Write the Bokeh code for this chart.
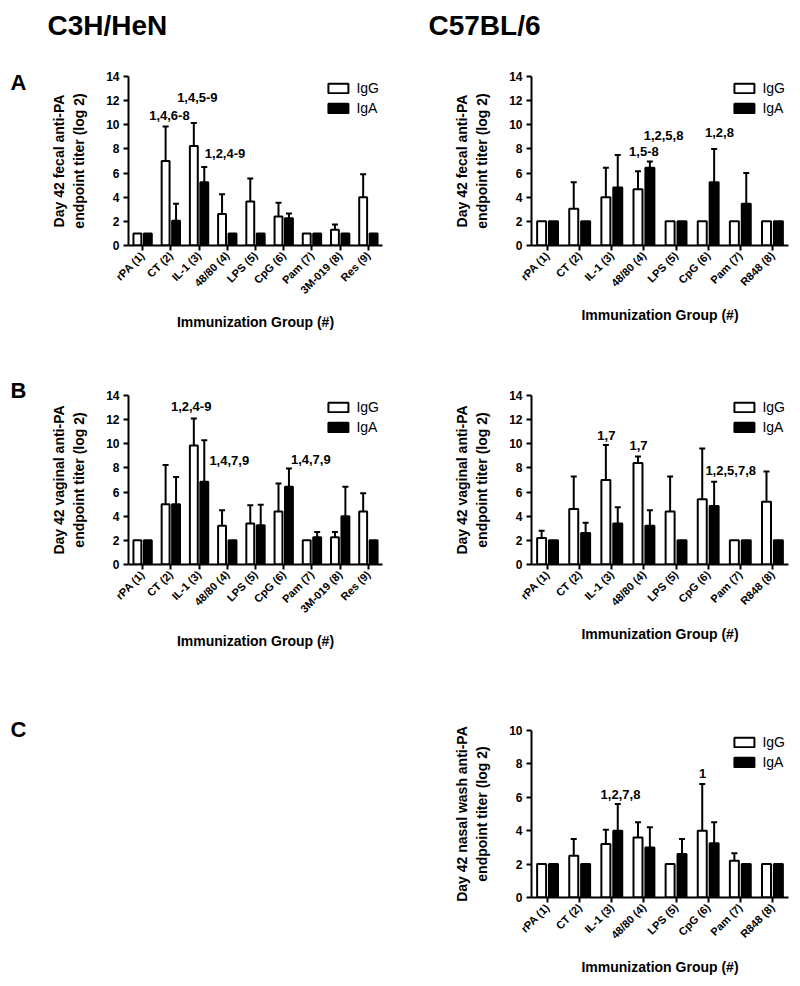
import math
from bokeh.plotting import figure
from bokeh.models import (FactorRange, ColumnDataSource, Whisker, TeeHead, Legend,
                          LegendItem, Label, Range1d, Spacer)
from bokeh.transform import dodge
from bokeh.layouts import column, row
from bokeh.core.properties import value
from bokeh.embed import file_html
from bokeh.resources import INLINE

FONT = "Liberation Sans"

# ---------------- data ----------------
cats_c3h = ["rPA (1)", "CT (2)", "IL-1 (3)", "48/80 (4)", "LPS (5)", "CpG (6)",
            "Pam (7)", "3M-019 (8)", "Res (9)"]
cats_c57 = ["rPA (1)", "CT (2)", "IL-1 (3)", "48/80 (4)", "LPS (5)", "CpG (6)",
            "Pam (7)", "R848 (8)"]

# A, C3H/HeN fecal
a1_igg = [1.0, 7.0, 8.25, 2.6, 3.65, 2.4, 1.0, 1.3, 4.0]
a1_igg_hi = [1.0, 9.85, 10.15, 4.25, 5.55, 3.55, 1.0, 1.75, 5.9]
a1_iga = [1.0, 2.05, 5.25, 1.0, 1.0, 2.25, 1.0, 1.0, 1.0]
a1_iga_hi = [1.0, 3.45, 6.5, 1.0, 1.0, 2.65, 1.0, 1.0, 1.0]

# A, C57BL/6 fecal
a2_igg = [2.0, 3.05, 4.0, 4.65, 2.0, 2.0, 2.0, 2.0]
a2_igg_hi = [2.0, 5.25, 6.45, 6.15, 2.0, 2.0, 2.0, 2.0]
a2_iga = [2.0, 2.0, 4.8, 6.45, 2.0, 5.25, 3.45, 2.0]
a2_iga_hi = [2.0, 2.0, 7.5, 6.95, 2.0, 8.0, 6.0, 2.0]

# B, C3H/HeN vaginal
b1_igg = [2.0, 5.0, 9.85, 3.2, 3.4, 4.4, 2.0, 2.25, 4.4]
b1_igg_hi = [2.0, 8.25, 12.1, 4.5, 4.9, 6.7, 2.0, 2.7, 5.9]
b1_iga = [2.0, 5.0, 6.85, 2.0, 3.25, 6.45, 2.25, 4.0, 2.0]
b1_iga_hi = [2.0, 7.25, 10.3, 2.0, 4.95, 7.95, 2.7, 6.45, 2.0]

# B, C57BL/6 vaginal
b2_igg = [2.2, 4.6, 7.0, 8.4, 4.4, 5.4, 2.0, 5.2]
b2_igg_hi = [2.8, 7.3, 9.9, 8.95, 7.3, 9.6, 2.0, 7.7]
b2_iga = [2.0, 2.6, 3.4, 3.2, 2.0, 4.85, 2.0, 2.0]
b2_iga_hi = [2.0, 3.45, 4.75, 4.5, 2.0, 6.85, 2.0, 2.0]

# C, C57BL/6 nasal wash
c2_igg = [2.0, 2.5, 3.2, 3.6, 2.0, 4.0, 2.2, 2.0]
c2_igg_hi = [2.0, 3.5, 4.05, 4.5, 2.0, 6.8, 2.65, 2.0]
c2_iga = [2.0, 2.0, 4.0, 3.0, 2.6, 3.25, 2.0, 2.0]
c2_iga_hi = [2.0, 2.0, 5.6, 4.2, 3.5, 4.5, 2.0, 2.0]

# significance annotations: category, level, text
a1_ann_cat = ["CT (2)", "IL-1 (3)", "IL-1 (3)"]
a1_ann_y = [10.8, 12.25, 7.6]
a1_ann_txt = ["1,4,6-8", "1,4,5-9", "1,2,4-9"]
a2_ann_cat = ["48/80 (4)", "48/80 (4)", "CpG (6)"]
a2_ann_y = [7.75, 9.1, 9.35]
a2_ann_txt = ["1,5-8", "1,2,5,8", "1,2,8"]
b1_ann_cat = ["IL-1 (3)", "IL-1 (3)", "CpG (6)"]
b1_ann_y = [13.05, 8.65, 8.7]
b1_ann_txt = ["1,2,4-9", "1,4,7,9", "1,4,7,9"]
b2_ann_cat = ["IL-1 (3)", "48/80 (4)", "CpG (6)"]
b2_ann_y = [10.65, 9.85, 7.75]
b2_ann_txt = ["1,7", "1,7", "1,2,5,7,8"]
c2_ann_cat = ["IL-1 (3)", "CpG (6)"]
c2_ann_y = [6.15, 7.4]
c2_ann_txt = ["1,2,7,8", "1"]

y_ticks_14 = [0, 2, 4, 6, 8, 10, 12, 14]
y_ticks_10 = [0, 2, 4, 6, 8, 10]
series_names = ["IgG", "IgA"]
strain_titles = ["C3H/HeN", "C57BL/6"]
panel_letters = ["A", "B", "C"]
x_title = "Immunization Group (#)"

# ---------------- styling / layout ----------------
OFF = 0.185
BAR_W = 0.28
HEADER_H = 48
LETTER_W = 38


def panel(cats, igg, igg_hi, iga, iga_hi, ann_cat, ann_y, ann_txt, ann_dx,
          ymax, yticks, ylab, height, btop, left_col):
    if left_col:
        w, bl, br = 362, 90, 18
    else:
        w, bl, br = 392, 131, 4
    fh = 169 if ymax == 14 else 170
    p = figure(x_range=FactorRange(*cats), y_range=Range1d(0, ymax),
               width=w, height=height, output_backend="svg",
               toolbar_location=None, min_border_left=bl, min_border_right=br,
               min_border_top=btop, min_border_bottom=height - btop - fh)
    p.outline_line_color = None
    p.xgrid.grid_line_color = None
    p.ygrid.grid_line_color = None
    p.background_fill_color = "white"
    p.border_fill_color = "white"

    src = ColumnDataSource(dict(cat=cats, igg=igg, iga=iga))
    r_g = p.vbar(x=dodge("cat", -OFF, range=p.x_range), top="igg", width=BAR_W,
                 source=src, fill_color="white", line_color="black", line_width=2)
    r_a = p.vbar(x=dodge("cat", OFF, range=p.x_range), top="iga", width=BAR_W,
                 source=src, fill_color="black", line_color="black", line_width=2)

    for vals, his, off in ((igg, igg_hi, -OFF), (iga, iga_hi, OFF)):
        keep = [i for i in range(len(cats)) if his[i] > vals[i] + 1e-9]
        wsrc = ColumnDataSource(dict(cat=[cats[i] for i in keep],
                                     lo=[vals[i] for i in keep],
                                     hi=[his[i] for i in keep]))
        wh = Whisker(base=dodge("cat", off, range=p.x_range), lower="lo", upper="hi",
                     source=wsrc, line_color="black", line_width=2,
                     upper_head=TeeHead(size=6, line_color="black", line_width=2),
                     lower_head=None)
        p.add_layout(wh)

    for i in range(len(ann_cat)):
        s = ColumnDataSource(dict(cat=[ann_cat[i]], y=[ann_y[i]], t=[ann_txt[i]]))
        p.text(x=dodge("cat", ann_dx[i], range=p.x_range), y="y", text="t", source=s,
               text_font=value(FONT), text_font_style="bold", text_font_size="13px",
               text_align="center", text_baseline="middle", text_color="black")

    # axes
    for ax in (p.xaxis[0], p.yaxis[0]):
        ax.axis_line_width = 2
        ax.axis_line_color = "black"
        ax.major_tick_line_width = 2
        ax.major_tick_line_color = "black"
        ax.major_tick_in = 0
        ax.major_tick_out = 5
        ax.minor_tick_line_color = None
        ax.major_label_text_font = FONT
        ax.major_label_text_font_style = "bold"
        ax.major_label_text_color = "black"
        ax.axis_label_text_font = FONT
        ax.axis_label_text_font_style = "bold"
        ax.axis_label_text_font_size = "14px"
        ax.axis_label_text_color = "black"
    p.yaxis.ticker = yticks
    p.yaxis.major_label_text_font_size = "12px"
    p.yaxis.major_label_standoff = 4
    p.yaxis.axis_label = ylab
    p.yaxis.axis_label_standoff = 16
    p.yaxis.axis_label_text_align = "center"
    p.yaxis.axis_label_text_line_height = 1.25
    p.xaxis.major_label_text_font_size = "11px"
    p.xaxis.major_label_orientation = math.pi / 4
    p.xaxis.major_label_standoff = 3
    p.xaxis.axis_label = x_title
    p.xaxis.axis_label_standoff = 11

    legend = Legend(items=[LegendItem(label=series_names[0], renderers=[r_g]),
                           LegendItem(label=series_names[1], renderers=[r_a])],
                    location="top_right", border_line_color=None,
                    background_fill_alpha=0, padding=0, margin=3, spacing=2,
                    glyph_width=25, glyph_height=12, label_height=18,
                    label_standoff=6, label_text_font=FONT,
                    label_text_font_size="14px", label_text_color="black")
    p.add_layout(legend)
    return p


def blank(w, h):
    f = figure(width=w, height=h, output_backend="svg", toolbar_location=None,
               x_axis_type=None, y_axis_type=None, min_border=0,
               x_range=Range1d(0, w), y_range=Range1d(0, h))
    f.outline_line_color = None
    f.xgrid.grid_line_color = None
    f.ygrid.grid_line_color = None
    return f


pa1 = panel(cats_c3h, a1_igg, a1_igg_hi, a1_iga, a1_iga_hi,
            a1_ann_cat, a1_ann_y, a1_ann_txt, [-0.05, -0.06, 0.92],
            14, y_ticks_14, "Day 42 fecal anti-PA\nendpoint titer (log 2)",
            290, 28, True)
pa2 = panel(cats_c57, a2_igg, a2_igg_hi, a2_iga, a2_iga_hi,
            a2_ann_cat, a2_ann_y, a2_ann_txt, [0.0, 0.61, 0.35],
            14, y_ticks_14, "Day 42 fecal anti-PA\nendpoint titer (log 2)",
            290, 28, False)
pb1 = panel(cats_c3h, b1_igg, b1_igg_hi, b1_iga, b1_iga_hi,
            b1_ann_cat, b1_ann_y, b1_ann_txt, [-0.28, 1.07, 0.96],
            14, y_ticks_14, "Day 42 vaginal anti-PA\nendpoint titer (log 2)",
            330, 57, True)
pb2 = panel(cats_c57, b2_igg, b2_igg_hi, b2_iga, b2_iga_hi,
            b2_ann_cat, b2_ann_y, b2_ann_txt, [-0.17, -0.17, 0.7],
            14, y_ticks_14, "Day 42 vaginal anti-PA\nendpoint titer (log 2)",
            330, 57, False)
pc2 = panel(cats_c57, c2_igg, c2_igg_hi, c2_iga, c2_iga_hi,
            c2_ann_cat, c2_ann_y, c2_ann_txt, [0.27, -0.17],
            10, y_ticks_10, "Day 42 nasal wash anti-PA\nendpoint titer (log 2)",
            310, 62, False)

# header with strain names
header = blank(792, HEADER_H)
for tx, txt in ((47, strain_titles[0]), (428, strain_titles[1])):
    header.add_layout(Label(x=tx, y=23, text=txt, text_align="left",
                            text_baseline="alphabetic", text_font=FONT,
                            text_font_style="bold", text_font_size="28px",
                            text_color="black"))

# panel letters column
letters = blank(LETTER_W, 930)
for ly, txt in zip((896, 588, 249), panel_letters):
    letters.add_layout(Label(x=10, y=ly, text=txt, text_align="left",
                             text_baseline="alphabetic", text_font=FONT,
                             text_font_style="bold", text_font_size="22px",
                             text_color="black"))

grid = column(row(pa1, pa2), row(pb1, pb2), row(Spacer(width=362, height=310), pc2),
              spacing=0)
layout = column(header, row(letters, grid, spacing=0), spacing=0)
open("out.html", "w").write(file_html(layout, INLINE))
